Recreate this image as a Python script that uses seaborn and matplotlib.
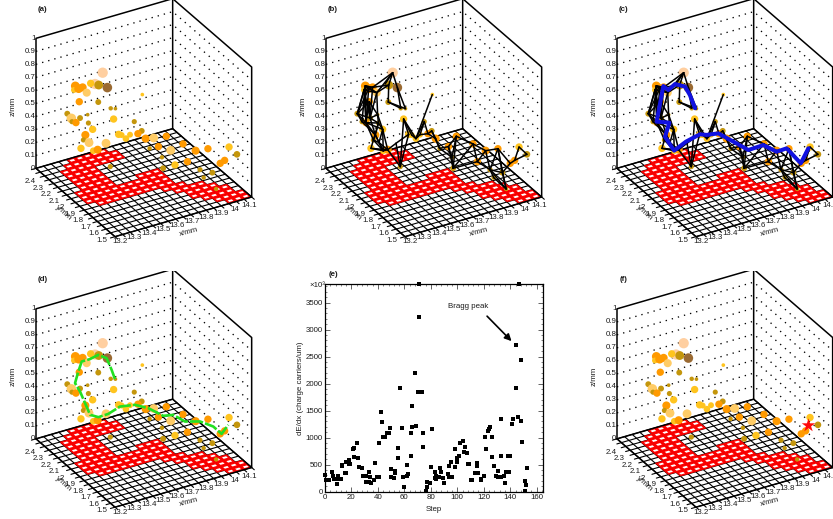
import matplotlib
matplotlib.use('Agg')
import matplotlib.pyplot as plt
from matplotlib.collections import PolyCollection
import numpy as np
import pandas as pd
import seaborn as sns

# hits of the track (mm), one entry per pixel above threshold
hit_x = [13.587, 13.537, 13.508, 13.561, 13.618, 13.407, 13.398, 13.429, 13.455, 13.482,
         13.433, 13.558, 13.614, 13.640, 13.671, 13.250, 13.277, 13.334, 13.384, 13.281,
         13.307, 13.389, 13.425, 13.561, 13.417, 13.610, 13.369, 13.356, 13.393, 13.340,
         13.421, 13.450, 13.505, 13.458, 13.478, 13.506, 13.533, 13.585, 13.636, 13.637,
         13.720, 13.610, 13.668, 13.749, 13.752, 13.691, 13.835, 13.838, 13.977, 14.029,
         13.777, 13.781, 13.699, 13.533, 13.864, 13.867, 13.888, 13.970, 13.948, 13.919]
hit_y = [2.31, 2.31, 2.31, 2.31, 2.31, 2.31, 2.31, 2.31, 2.31, 2.31,
         2.31, 2.31, 1.905, 2.31, 2.31, 2.13, 2.13, 2.13, 2.13, 2.13,
         2.13, 2.13, 1.905, 1.905, 2.13, 1.905, 2.13, 2.13, 2.13, 2.13,
         2.13, 2.13, 2.13, 1.905, 1.905, 1.905, 1.905, 1.905, 1.905, 1.815,
         1.815, 1.815, 1.815, 1.815, 1.68, 1.815, 1.68, 1.545, 1.545, 1.545,
         1.815, 1.68, 1.815, 2.13, 1.68, 1.545, 1.68, 1.68, 1.545, 1.545]
hit_z = [0.657, 0.587, 0.602, 0.571, 0.532, 0.616, 0.588, 0.588, 0.589, 0.539,
         0.486, 0.441, 0.716, 0.365, 0.352, 0.561, 0.516, 0.499, 0.508, 0.489,
         0.473, 0.442, 0.592, 0.526, 0.384, 0.438, 0.357, 0.323, 0.290, 0.264,
         0.218, 0.216, 0.247, 0.463, 0.451, 0.414, 0.435, 0.425, 0.370, 0.427,
         0.412, 0.356, 0.350, 0.294, 0.421, 0.260, 0.341, 0.434, 0.400, 0.326,
         0.172, 0.275, 0.173, 0.058, 0.185, 0.240, 0.116, 0.001, 0.307, 0.294]
hit_charge = [14, 14, 10, 12, 13, 12, 8, 12, 11, 11,
              10, 8, 5, 6, 5, 8, 13, 8, 5, 7,
              10, 7, 10, 7, 10, 8, 11, 7, 12, 10,
              9, 11, 12, 10, 8, 9, 8, 10, 11, 12,
              10, 6, 10, 12, 10, 6, 11, 10, 10, 9,
              10, 10, 8, 7, 7, 8, 6, 6, 10, 10]
hit_level = ['peach', 'peach', 'gold', 'dark', 'brown', 'orange', 'gold', 'orange', 'orange', 'light',
             'orange', 'dark', 'gold', 'dark', 'dark', 'dark', 'light', 'dark', 'dark', 'dark',
             'orange', 'dark', 'gold', 'dark', 'gold', 'dark', 'orange', 'dark', 'light', 'gold',
             'gold', 'orange', 'light', 'gold', 'gold', 'gold', 'gold', 'orange', 'orange', 'light',
             'orange', 'dark', 'orange', 'light', 'orange', 'dark', 'orange', 'orange', 'gold', 'dark',
             'gold', 'orange', 'dark', 'dark', 'dark', 'dark', 'dark', 'dark', 'orange', 'orange']
level_colors = {'peach': '#ffcfa0', 'gold': '#ffc41e', 'dark': '#c4960c', 'brown': '#9a6a32',
                'orange': '#ff9a00', 'light': '#ffcc66'}

# hits left out of the network panels
not_in_network = [2, 3, 17, 29, 33, 40, 44, 51]

# neighbour links, 1-based hit numbers
links = [(1, 4), (1, 2), (1, 5), (1, 10), (1, 9), (4, 12), (5, 14), (5, 15), (12, 15), (12, 14),
         (4, 9), (9, 6), (9, 7), (6, 8), (8, 10), (10, 4), (6, 9), (8, 9), (7, 10), (6, 10),
         (6, 16), (8, 16), (7, 16), (6, 20), (7, 21), (8, 21), (9, 18), (10, 18), (10, 19), (11, 16),
         (11, 19), (11, 18), (16, 20), (16, 21), (18, 19), (18, 22), (19, 22), (20, 21), (21, 22),
         (21, 25), (22, 25), (18, 27), (21, 27), (22, 27), (22, 28), (25, 29), (27, 28), (28, 29),
         (27, 31), (28, 30), (29, 32), (25, 32), (30, 31), (31, 32), (25, 31), (29, 31), (28, 31), (30, 32),
         (7, 18), (6, 21), (11, 21), (16, 18), (19, 25), (20, 27), (21, 28), (27, 29),
         (32, 54), (33, 54), (34, 54), (23, 54), (32, 33), (33, 34), (23, 34), (23, 36), (13, 36),
         (23, 35), (35, 36), (36, 37), (36, 24), (37, 24), (24, 38), (38, 26), (26, 39), (38, 39),
         (37, 38), (39, 42), (26, 42), (42, 43), (43, 41), (41, 53), (43, 53), (43, 46), (46, 53),
         (42, 46), (41, 46), (41, 45), (45, 53), (45, 52), (45, 47), (47, 52), (52, 53), (47, 48),
         (47, 55), (48, 55), (48, 56), (48, 58), (55, 56), (55, 58), (56, 58), (56, 60), (48, 60),
         (60, 59), (59, 49), (49, 50), (59, 50), (57, 58), (55, 57), (52, 55)]

# best path, panel (c)
path_x = [13.662, 13.628, 13.596, 13.530, 13.486, 13.453, 13.305, 13.389, 13.360, 13.420, 13.498,
          13.460, 13.504, 13.581, 13.628, 13.727, 13.747, 13.835, 13.823, 13.916, 13.966]
path_y = [2.31, 2.31, 2.31, 2.31, 2.31, 2.31, 2.13, 2.13, 2.13, 2.13, 2.13,
          1.905, 1.905, 1.905, 1.815, 1.815, 1.68, 1.68, 1.545, 1.545, 1.545]
path_z = [0.358, 0.471, 0.547, 0.589, 0.558, 0.600, 0.481, 0.445, 0.347, 0.219, 0.262,
          0.463, 0.443, 0.429, 0.402, 0.304, 0.414, 0.333, 0.442, 0.295, 0.394]

# smoothed track, panel (d)
smooth_x = [13.668, 13.646, 13.613, 13.558, 13.503, 13.449, 13.427, 13.301, 13.334, 13.367, 13.400,
            13.455, 13.520, 13.467, 13.565, 13.601, 13.700, 13.766, 13.765, 13.864, 13.873, 13.928, 13.972]
smooth_y = [2.31, 2.31, 2.31, 2.31, 2.31, 2.31, 2.31, 2.13, 2.13, 2.13, 2.13,
            2.13, 2.13, 1.905, 1.905, 1.815, 1.815, 1.815, 1.68, 1.68, 1.545, 1.545, 1.545]
smooth_z = [0.353, 0.432, 0.533, 0.577, 0.563, 0.563, 0.494, 0.552, 0.476, 0.376, 0.275,
            0.238, 0.241, 0.447, 0.427, 0.442, 0.349, 0.334, 0.362, 0.329, 0.366, 0.291, 0.345]

# end point, panel (f)
star_x, star_y, star_z = [13.963], [1.545], [0.348]

# fired pixels on the floor: row -> first and last x bin
red_rows = {0: [(4, 8)], 1: [(3, 9)], 2: [(2, 9)], 3: [(2, 5)], 4: [(2, 5)], 5: [(2, 5)], 6: [(2, 5)],
            7: [(1, 5), (9, 11)], 8: [(1, 11)], 9: [(1, 11)], 10: [(2, 11)], 11: [(10, 12)],
            12: [(11, 14)], 13: [(12, 15)], 14: [(12, 16)], 15: [(13, 16)], 16: [(14, 17)], 17: [(15, 17)]}

x_ticks = [13.2, 13.3, 13.4, 13.5, 13.6, 13.7, 13.8, 13.9, 14, 14.1]
x_tick_labels = ['13.2', '13.3', '13.4', '13.5', '13.6', '13.7', '13.8', '13.9', '14', '14.1']
y_ticks = [2.4, 2.3, 2.2, 2.1, 2, 1.9, 1.8, 1.7, 1.6, 1.5]
y_tick_labels = ['2.4', '2.3', '2.2', '2.1', '2', '1.9', '1.8', '1.7', '1.6', '1.5']
z_ticks = [0, 0.1, 0.2, 0.3, 0.4, 0.5, 0.6, 0.7, 0.8, 0.9, 1]
z_tick_labels = ['0', '0.1', '0.2', '0.3', '0.4', '0.5', '0.6', '0.7', '0.8', '0.9', '1']

# panel (e)
step = [0, 1, 3, 5, 6, 7, 9, 9, 10, 12, 13, 13, 15, 16, 16, 18, 18, 19, 21, 22, 22, 24, 25, 26, 28, 29, 30, 31,
        31, 33, 33, 34, 35, 37, 38, 39, 41, 41, 42, 43, 44, 45, 47, 48, 49, 50, 50, 52, 53, 53, 55, 55, 57, 58,
        59, 60, 62, 62, 63, 65, 65, 66, 66, 68, 69, 70, 71, 71, 73, 74, 74, 76, 77, 77, 79, 81, 80, 83, 83, 84,
        84, 86, 87, 88, 89, 90, 93, 94, 94, 95, 96, 98, 98, 100, 100, 101, 102, 104, 105, 106, 107, 108, 109,
        110, 111, 113, 114, 115, 115, 116, 118, 118, 120, 121, 122, 123, 124, 125, 126, 126, 128, 129, 131, 131,
        133, 133, 133, 135, 136, 137, 139, 138, 140, 141, 142, 144, 144, 146, 146, 147, 148, 148, 149, 151, 151,
        152, 153]
dedx = [308, 216, 216, 358, 296, 228, 228, 142, 284, 228, 475, 487, 340, 340, 555, 506, 586, 518, 784, 802, 648,
        895, 629, 450, 444, 296, 296, 296, 185, 185, 370, 265, 154, 216, 537, 265, 265, 895, 1480, 1296, 1006,
        1018, 1080, 1092, 1185, 420, 265, 247, 340, 389, 617, 802, 1925, 1172, 265, 80, 290, 494, 321, 666, 1080,
        1190, 1592, 2190, 1222, 1851, 3840, 3240, 1851, 1080, 833, 18, 185, 92, 154, 1154, 463, 358, 247, 228,
        296, 278, 432, 370, 247, 154, 321, 265, 481, 543, 265, 450, 784, 555, 629, 666, 895, 938, 740, 833, 722,
        506, 506, 216, 216, 340, 340, 475, 524, 340, 228, 216, 296, 1006, 784, 1129, 1160, 1190, 1018, 635, 481,
        296, 389, 278, 278, 666, 1339, 296, 154, 358, 358, 666, 666, 1246, 1339, 2709, 1925, 1376, 1388, 3840,
        2431, 1308, 925, 204, 18, 117, 432]
step_ticks = [0, 20, 40, 60, 80, 100, 120, 140, 160]
dedx_ticks = [0, 500, 1000, 1500, 2000, 2500, 3000, 3500]

FIG_W, FIG_H = 833, 519
FONT = 5.7
INK = '#1c1c1c'


def project(x, y, z):
    # fixed oblique view of the box, in panel units (3 per pixel)
    u = (np.asarray(x, dtype=float) - 13.2) / 0.9
    v = (2.4 - np.asarray(y, dtype=float)) / 0.9
    return 108 + 410 * u + 237 * v, 505 - 119 * u + 205 * v - 390 * np.asarray(z, dtype=float)


def panel_axes(fig, left, top):
    ax = fig.add_axes([left / FIG_W, 1 - (top + 260) / FIG_H, 280 / FIG_W, 260 / FIG_H])
    ax.set_xlim(0, 840)
    ax.set_ylim(780, 0)
    ax.axis('off')
    return ax


def line3d(ax, x, y, z, **kw):
    sx, sy = project(x, y, z)
    ax.plot(sx, sy, **kw)


def draw_box(ax):
    # floor grid, 18 bins each way, with a short tick past the front edges
    edges_x = np.linspace(13.2, 14.1, 19)
    edges_y = np.linspace(2.4, 1.5, 19)
    for e in edges_x:
        line3d(ax, [e, e], [2.4, 1.47], [0, 0], color='black', lw=0.8, zorder=1)
    for e in edges_y:
        line3d(ax, [13.17, 14.1], [e, e], [0, 0], color='black', lw=0.8, zorder=1)

    # red pixels with white hole
    reds, holes = [], []
    for row, spans in red_rows.items():
        for first, last in spans:
            for col in range(first, last + 1):
                x0, x1 = edges_x[col], edges_x[col + 1]
                y0, y1 = edges_y[row], edges_y[row + 1]
                sx, sy = project([x0, x1, x1, x0], [y0, y0, y1, y1], [0, 0, 0, 0])
                reds.append(np.column_stack([sx, sy]))
                xm, ym = (x0 + x1) / 2, (y0 + y1) / 2
                hx = (x1 - x0) * 0.27
                hy = (y1 - y0) * 0.2
                sx, sy = project([xm - hx, xm + hx, xm + hx, xm - hx],
                                 [ym - hy, ym - hy, ym + hy, ym + hy], [0, 0, 0, 0])
                holes.append(np.column_stack([sx, sy]))
    ax.add_collection(PolyCollection(reds, facecolor='#ff0000', edgecolor='#ff0000', lw=0.3, zorder=2))
    ax.add_collection(PolyCollection(holes, facecolor='white', edgecolor='none', zorder=3))

    # dotted levels on the two walls
    for z in z_ticks[1:-1]:
        line3d(ax, [13.2, 14.1, 14.1], [2.4, 2.4, 1.5], [z, z, z], color='black', lw=0.95,
               ls=(0, (1, 3.8)), zorder=1)

    # frame
    frame = dict(color='black', lw=1.1, zorder=4)
    line3d(ax, [13.2, 13.2, 14.1, 14.1, 14.1], [2.4, 2.4, 2.4, 1.5, 1.5], [0, 1, 1, 1, 0], **frame)
    line3d(ax, [13.2, 13.2, 14.1, 14.1], [2.4, 1.5, 1.5, 2.4], [0, 0, 0, 0], **frame)
    line3d(ax, [14.1, 14.1, 13.2], [2.4, 2.4, 2.4], [1, 0, 0], **frame)

    # tick labels
    txt = dict(fontsize=FONT, color=INK, ha='center', va='center', zorder=6)
    for tick, label in zip(x_ticks, x_tick_labels):
        frac = (tick - 13.2) / 0.9
        ax.text(360 + 388 * frac, 725 - 108 * frac, label, **txt)
    for tick, label in zip(y_ticks, y_tick_labels):
        frac = (2.4 - tick) / 0.9
        ax.text(90 + 215 * frac, 545 + 175 * frac, label, **txt)
    for tick, label in zip(z_ticks, z_tick_labels):
        sx, sy = project(13.2, 2.4, tick)
        ax.text(sx - 2, sy, label, fontsize=FONT, color=INK, ha='right', va='center', zorder=6)

    ax.text(565, 695, 'x/mm', rotation=15, **txt)
    ax.text(190, 640, 'y/mm', rotation=-42, **txt)
    ax.text(40, 318, 'z/mm', rotation=90, **txt)


def draw_hits(ax, skip=()):
    sx, sy = project(hit_x, hit_y, hit_z)
    df = pd.DataFrame({'sx': sx, 'sy': sy, 'charge': hit_charge, 'level': hit_level,
                       'num': np.arange(1, len(hit_x) + 1)})
    df = df[~df['num'].isin(skip)]
    areas = {c: (0.53 * c) ** 2 for c in set(hit_charge)}
    sns.scatterplot(data=df, x='sx', y='sy', hue='level', palette=level_colors, size='charge',
                    sizes=areas, linewidth=0, legend=False, ax=ax, zorder=5)
    ax.set_xlabel('')
    ax.set_ylabel('')


def draw_links(ax):
    sx, sy = project(hit_x, hit_y, hit_z)
    for a, b in links:
        ax.plot([sx[a - 1], sx[b - 1]], [sy[a - 1], sy[b - 1]], color='black', lw=1.1,
                solid_capstyle='round', zorder=6)


def panel_letter(ax, letter):
    ax.text(128, 28, letter, fontsize=FONT, fontweight='bold', ha='center', va='center', color=INK)


sns.set_theme(style='white')
plt.rcParams['font.family'] = ['Liberation Sans', 'DejaVu Sans']

fig = plt.figure(figsize=(FIG_W / 100, FIG_H / 100), dpi=100)

# (a)
ax = panel_axes(fig, 0, 0)
draw_box(ax)
draw_hits(ax)
panel_letter(ax, '(a)')

# (b)
ax = panel_axes(fig, 290, 0)
draw_box(ax)
draw_hits(ax, not_in_network)
draw_links(ax)
panel_letter(ax, '(b)')

# (c)
ax = panel_axes(fig, 581, 0)
draw_box(ax)
draw_hits(ax, not_in_network)
draw_links(ax)
px, py = project(path_x, path_y, path_z)
sns.lineplot(x=px, y=py, sort=False, estimator=None, color='#1212e0', lw=2.9, ax=ax, zorder=7)
panel_letter(ax, '(c)')

# (d)
ax = panel_axes(fig, 0, 270.5)
draw_box(ax)
draw_hits(ax)
px, py = project(smooth_x, smooth_y, smooth_z)
sns.lineplot(x=px, y=py, sort=False, estimator=None, color='#22e022', lw=1.9, ls=(0, (5, 0.8)), ax=ax, zorder=7)
panel_letter(ax, '(d)')

# (f)
ax = panel_axes(fig, 581, 270.5)
draw_box(ax)
draw_hits(ax)
px, py = project(star_x, star_y, star_z)
ax.scatter(px, py, marker='*', s=105, color='#ff0a0a', linewidth=0, zorder=7)
panel_letter(ax, '(f)')

# (e)
ax = fig.add_axes([325 / FIG_W, 1 - 491.7 / FIG_H, 218.3 / FIG_W, 207.4 / FIG_H])
sns.scatterplot(x=step, y=dedx, marker='s', s=6, color='black', linewidth=0, ax=ax, clip_on=False, zorder=4)
ax.set_xlim(0, 165)
ax.set_ylim(0, 3840)
ax.set_xticks(step_ticks)
ax.set_yticks(dedx_ticks)
ax.set_xticks(np.arange(0, 165, 4), minor=True)
ax.set_yticks(np.arange(0, 3840, 100), minor=True)
ax.tick_params(which='major', direction='in', length=3.4, width=0.5, labelsize=FONT, pad=1.5,
               labelcolor=INK, top=True, right=True, bottom=True, left=True)
ax.tick_params(which='minor', direction='in', length=1.7, width=0.4, top=True, right=True, bottom=True, left=True)
for spine in ax.spines.values():
    spine.set_linewidth(0.9)
    spine.set_color('black')
ax.set_xlabel('Step', fontsize=FONT, color=INK, labelpad=4)
ax.set_ylabel('dE/dx (charge carriers/um)', fontsize=FONT, color=INK, labelpad=1)
ax.text(0, 0.995, '×10³', transform=ax.transAxes, fontsize=FONT, ha='right', va='center', color=INK)
ax.annotate('', xy=(141, 2788), xytext=(122.5, 3250),
            arrowprops=dict(arrowstyle='-|>', color='black', lw=1.2, mutation_scale=10, shrinkA=0, shrinkB=0))
ax.text(108, 3423, 'Bragg peak', fontsize=FONT, ha='center', va='center', color=INK)
ax.text(6.5, 4030, '(e)', fontsize=FONT, fontweight='bold', ha='center', va='center', color=INK)

fig.savefig('out.png', dpi=100)
